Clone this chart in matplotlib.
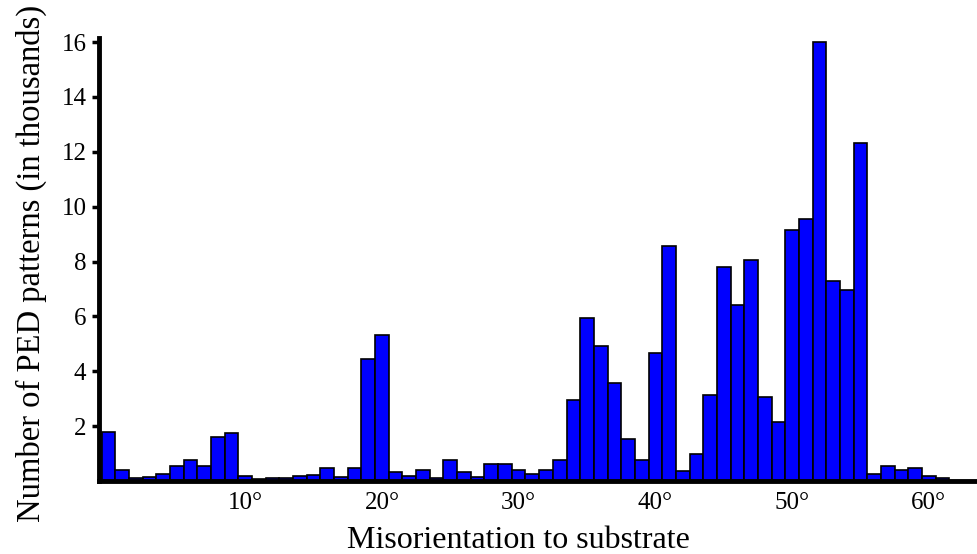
import matplotlib
matplotlib.use("Agg")
import matplotlib.pyplot as plt

# counts per 1 degree bin, in thousands
angles = list(range(62))
counts = [1.80, 0.39, 0.12, 0.15, 0.24, 0.54, 0.78, 0.54, 1.60, 1.76,
          0.19, 0.07, 0.10, 0.12, 0.17, 0.22, 0.46, 0.15, 0.49, 4.44,
          5.32, 0.32, 0.17, 0.39, 0.12, 0.75, 0.34, 0.15, 0.63, 0.63,
          0.39, 0.24, 0.41, 0.78, 2.96, 5.93, 4.93, 3.57, 1.53, 0.78,
          4.65, 8.58, 0.36, 1.00, 3.13, 7.81, 6.42, 8.05, 3.07, 2.15,
          9.14, 9.54, 16.0, 7.29, 6.95, 12.31, 0.27, 0.55, 0.41, 0.49,
          0.18, 0.10]

xticks = [10, 20, 30, 40, 50, 60]
xticklabels = ["10°", "20°", "30°", "40°", "50°", "60°"]
yticks = [2, 4, 6, 8, 10, 12, 14, 16]

plt.rcParams['font.family'] = ['Liberation Serif', 'DejaVu Serif']

fig = plt.figure(figsize=(9.77, 5.54), dpi=100)
ax = fig.add_axes([99 / 977, 1 - 481 / 554, 1 - 99 / 977, (481 - 38) / 554])

ax.bar(angles, counts, width=1.0, color='#0000FF', edgecolor='black', linewidth=1.2)

ax.set_xlim(-0.7, 63.53)
ax.set_ylim(0, 16.15)

ax.spines['top'].set_visible(False)
ax.spines['right'].set_visible(False)
ax.spines['left'].set_linewidth(3.5)
ax.spines['bottom'].set_linewidth(3.5)

ax.set_xticks(xticks)
ax.set_xticklabels(xticklabels, fontsize=18)
ax.tick_params(axis='x', length=0, pad=8)
ax.set_yticks(yticks)
ax.set_yticklabels([str(v) for v in yticks], fontsize=18)
ax.tick_params(axis='y', direction='out', length=5, width=2.5, pad=4)

ax.set_xlabel("Misorientation to substrate", fontsize=23)
ax.set_ylabel("Number of PED patterns (in thousands)", fontsize=23.5)
ax.xaxis.set_label_coords(0.478, -0.102)
ax.yaxis.set_label_coords(-0.059, 0.492)

fig.savefig("out.png", dpi=100)
